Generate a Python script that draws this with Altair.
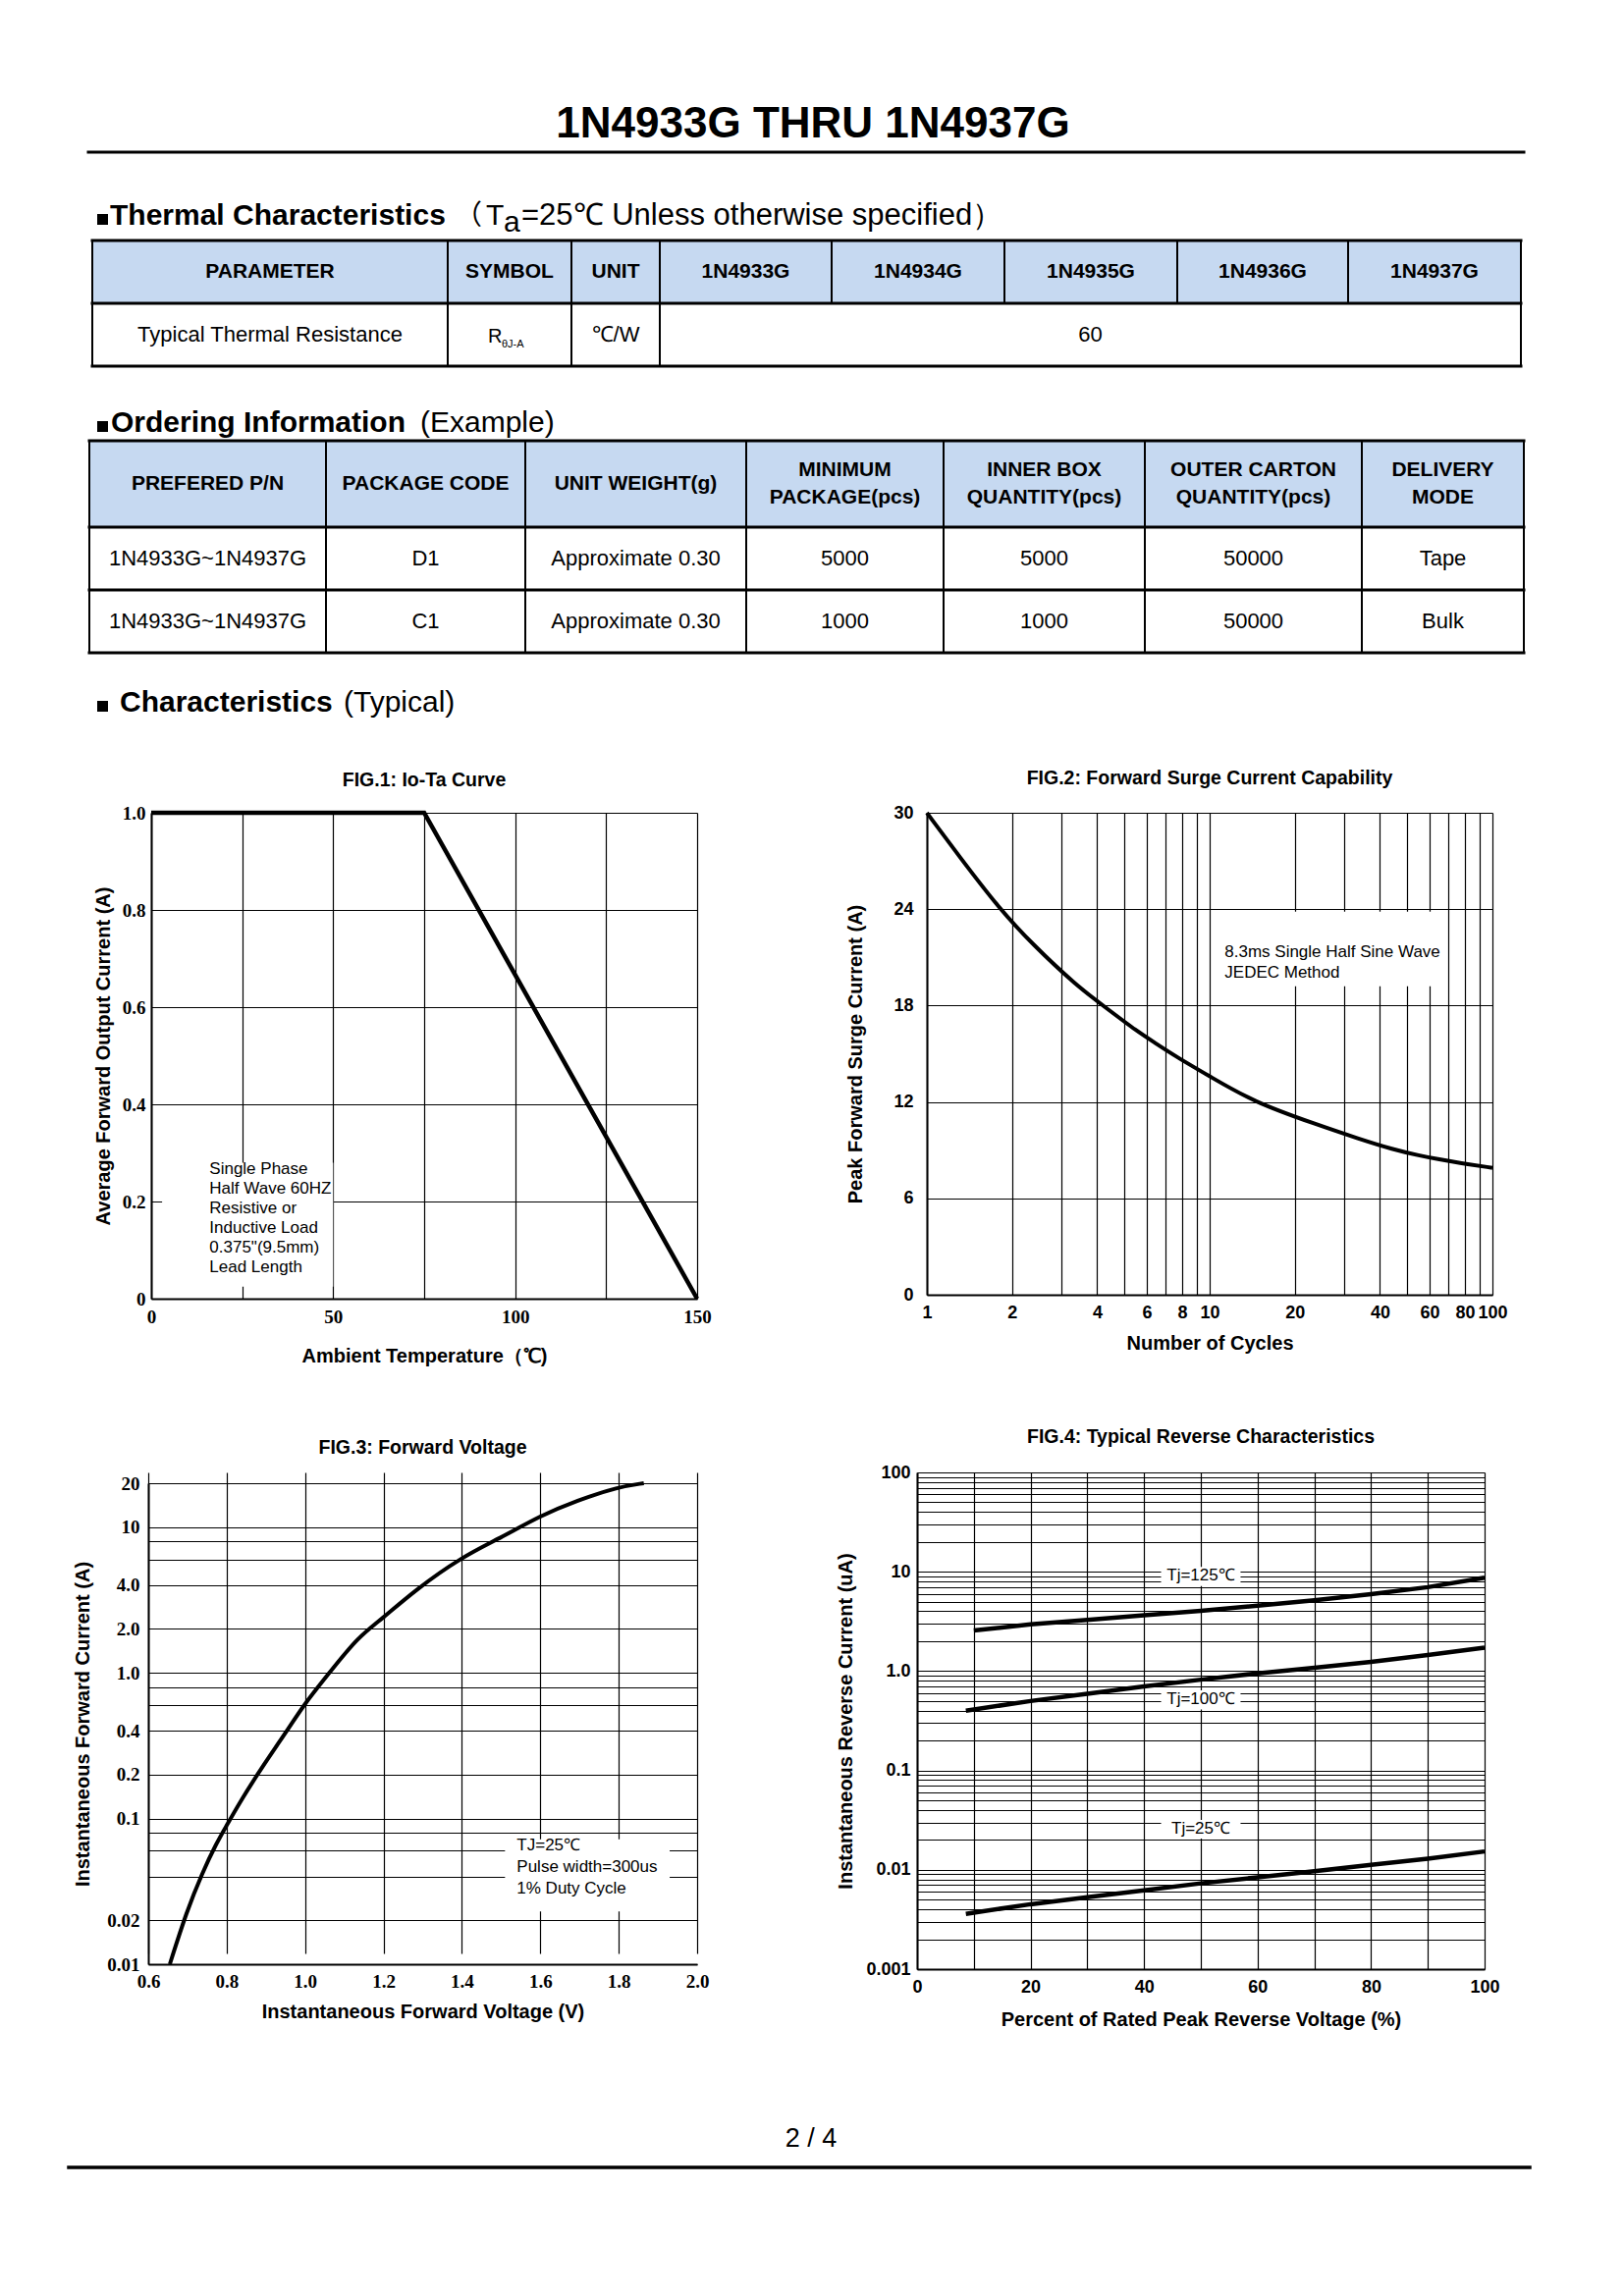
import altair as alt
import pandas as pd

# ---------------- fonts / colours ----------------
SANS = "Liberation Sans"
SERIF = "Liberation Serif"
CJK = "Noto Sans CJK SC"
HEAD_FILL = "#C6D9F1"

# ---------------- data ----------------
doc_title = "1N4933G THRU 1N4937G"
page_label = "2 / 4"

thermal_title = "Thermal Characteristics"
thermal_open = "（"
thermal_T = "T"
thermal_a = "a"
thermal_rest = "=25℃ Unless otherwise specified）"
thermal_headers = ["PARAMETER", "SYMBOL", "UNIT", "1N4933G", "1N4934G", "1N4935G", "1N4936G", "1N4937G"]
thermal_parameter = "Typical Thermal Resistance"
thermal_symbol = "R"
thermal_symbol_sub = "θJ-A"
thermal_unit = "℃/W"
thermal_value = "60"

order_title = "Ordering Information"
order_note = "(Example)"
order_headers = [["PREFERED P/N"], ["PACKAGE CODE"], ["UNIT WEIGHT(g)"],
                 ["MINIMUM", "PACKAGE(pcs)"], ["INNER BOX", "QUANTITY(pcs)"],
                 ["OUTER CARTON", "QUANTITY(pcs)"], ["DELIVERY", "MODE"]]
order_row_d1 = ["1N4933G~1N4937G", "D1", "Approximate 0.30", "5000", "5000", "50000", "Tape"]
order_row_c1 = ["1N4933G~1N4937G", "C1", "Approximate 0.30", "1000", "1000", "50000", "Bulk"]

char_title = "Characteristics"
char_note = "(Typical)"

fig1_title = "FIG.1: Io-Ta Curve"
fig1_ta = [0, 75, 150]
fig1_io = [1.0, 1.0, 0.0]
fig1_note = ["Single Phase", "Half Wave 60HZ", "Resistive or", "Inductive Load",
             "0.375\"(9.5mm)", "Lead Length"]

fig2_title = "FIG.2: Forward Surge Current Capability"
fig2_cycles = [1, 1.3, 1.81, 2.37, 3.35, 4.42, 5.54, 6.38, 7.64, 10, 14.3, 23.9, 33.8, 44.4, 55.6, 63.6, 76.8, 100]
fig2_ifsm = [30.0, 27.3, 24.0, 21.8, 19.3, 17.7, 16.4, 15.7, 14.8, 13.6, 12.0, 10.6, 9.7, 9.05, 8.65, 8.45, 8.2, 7.9]
fig2_note = ["8.3ms Single Half Sine Wave", "JEDEC Method"]

fig3_title = "FIG.3: Forward  Voltage"
fig3_vf = [0.655, 0.697, 0.738, 0.774, 0.799, 0.837, 0.891, 0.963, 0.999, 1.062,
           1.135, 1.197, 1.279, 1.402, 1.495, 1.601, 1.693, 1.800, 1.864]
fig3_if = [0.01, 0.0227, 0.0425, 0.0678, 0.0886, 0.134, 0.227, 0.434, 0.614, 1.0,
           1.76, 2.35, 3.67, 6.29, 8.32, 12.0, 15.2, 18.9, 20.0]
fig3_note = ["TJ=25℃", "Pulse width=300us", "1% Duty Cycle"]

fig4_title = "FIG.4: Typical Reverse Characteristics"
fig4_pct_125 = [10, 20, 30, 40, 50, 60, 70, 80, 90, 100]
fig4_ir_125 = [2.56, 2.95, 3.28, 3.65, 4.05, 4.55, 5.15, 5.95, 7.0, 8.7]
fig4_pct_100 = [8.6, 20, 30, 40, 50, 60, 70, 80, 90, 100]
fig4_ir_100 = [0.40, 0.50, 0.59, 0.70, 0.82, 0.95, 1.08, 1.24, 1.45, 1.72]
fig4_pct_25 = [8.6, 20, 30, 40, 50, 60, 70, 80, 90, 100]
fig4_ir_25 = [0.0036, 0.0045, 0.0053, 0.0062, 0.0073, 0.0084, 0.0097, 0.0112, 0.0129, 0.0153]
fig4_labels = ["Tj=125℃", "Tj=100℃", "Tj=25℃"]

# ---------------- layout (page pixels) ----------------
X0, Y0 = 8, 8
COL0 = 143          # page x 8 -> 151 (left edge of FIG.3)
COL2 = 224          # 710 -> 934 (left edge of FIG.4)
ROW_A_H = 820       # page y 8 -> 828
GAP_BC = 177
ROW_D_H = 230
F1_W, F1_H, F1_LEFT = 559, 495, 3      # plot x 154..710
F2_W, F2_H, F2_LEFT = 586, 491, 10     # plot x 944..1520
F3_W, F3_H, F3_TOP = 559, 501, 11      # plot y 1511..2001
F4_W, F4_H = 578, 506
ROW_D_TOP = Y0 + ROW_A_H + F1_H + GAP_BC + F4_H

T_X = [94, 456, 582, 672, 847, 1023, 1199, 1373, 1549]
T_Y = [245, 309, 373]
O_X = [91, 332, 535, 760, 961, 1166, 1387, 1552]
O_Y = [449, 537, 601, 665]
BASE_T, BASE_O, BASE_C = 229, 440, 725

ONE = pd.DataFrame({"k": [0]})


def text_layer(items, oy, **mark):
    df = pd.DataFrame([{"x": x - X0, "y": y - oy, "t": t} for x, y, t in items])
    return alt.Chart(df).mark_text(color="black", **mark).encode(
        x=alt.X("x:Q", scale=None, axis=None),
        y=alt.Y("y:Q", scale=None, axis=None),
        text="t:N")


def rect_layer(items, oy, color):
    df = pd.DataFrame([{"x": a - X0, "x2": b - X0, "y": c - oy, "y2": d - oy} for a, b, c, d in items])
    return alt.Chart(df).mark_rect(color=color).encode(
        x=alt.X("x:Q", scale=None, axis=None), x2="x2:Q",
        y=alt.Y("y:Q", scale=None, axis=None), y2="y2:Q")


def hrule_layer(items, oy, width):
    df = pd.DataFrame([{"x": a - X0, "x2": b - X0, "y": c - oy} for a, b, c in items])
    return alt.Chart(df).mark_rule(color="black", strokeWidth=width, strokeCap="square").encode(
        x=alt.X("x:Q", scale=None, axis=None), x2="x2:Q",
        y=alt.Y("y:Q", scale=None, axis=None))


def vrule_layer(items, oy, width):
    df = pd.DataFrame([{"x": a - X0, "y": b - oy, "y2": c - oy} for a, b, c in items])
    return alt.Chart(df).mark_rule(color="black", strokeWidth=width).encode(
        x=alt.X("x:Q", scale=None, axis=None),
        y=alt.Y("y:Q", scale=None, axis=None), y2="y2:Q")


def spacer(w, h):
    # invisible point kept well inside positive coordinates so it never shifts the origin
    return alt.Chart(ONE).mark_point(opacity=0, size=1, strokeWidth=0).encode(
        x=alt.value(4), y=alt.value(4)).properties(width=w, height=h)


# ---------------- row A: title, tables, headings ----------------
title_l = text_layer([(828, 127, doc_title)], Y0, font=SANS, fontWeight="bold",
                     fontSize=44, align="center", baseline="middle")
title_rule = hrule_layer([(90, 1552, 155)], Y0, 3)
squares = rect_layer([(99, 110, BASE_T - 11, BASE_T), (99, 110, BASE_O - 11, BASE_O),
                      (99, 110, BASE_C - 11, BASE_C)], Y0, "black")
head_bold = text_layer([(112, BASE_T, thermal_title), (113, BASE_O, order_title),
                        (122, BASE_C, char_title)], Y0, font=SANS, fontWeight="bold",
                       fontSize=30, align="left", baseline="alphabetic")
head_reg = text_layer([(495, BASE_T, thermal_T), (428, BASE_O, order_note),
                       (350, BASE_C, char_note)], Y0,
                      font=SANS, fontSize=30, align="left", baseline="alphabetic")
head_rest = text_layer([(531, BASE_T, thermal_rest)], Y0, font=SANS, fontSize=31,
                       align="left", baseline="alphabetic")
head_sub = text_layer([(513, BASE_T + 7, thermal_a)], Y0, font=SANS, fontSize=30,
                      align="left", baseline="alphabetic")
head_paren = text_layer([(491, BASE_T, thermal_open)], Y0, font=CJK, fontSize=28,
                        align="right", baseline="alphabetic")

fills = rect_layer([(T_X[0], T_X[-1], T_Y[0], T_Y[1]), (O_X[0], O_X[-1], O_Y[0], O_Y[1])],
                   Y0, HEAD_FILL)
v_lines = vrule_layer([(x, T_Y[0], T_Y[1]) for x in T_X]
                      + [(x, T_Y[1], T_Y[2]) for x in T_X[:4] + [T_X[-1]]]
                      + [(x, O_Y[0], O_Y[-1]) for x in O_X], Y0, 2)
h_lines = hrule_layer([(T_X[0], T_X[-1], y) for y in T_Y]
                      + [(O_X[0], O_X[-1], y) for y in O_Y], Y0, 3)

hdr_items = [((T_X[i] + T_X[i + 1]) / 2, (T_Y[0] + T_Y[1]) / 2, h)
             for i, h in enumerate(thermal_headers)]
o_mid = (O_Y[0] + O_Y[1]) / 2
for i, lines in enumerate(order_headers):
    cx = (O_X[i] + O_X[i + 1]) / 2
    for k, ln in enumerate(lines):
        hdr_items.append((cx, o_mid + (k - (len(lines) - 1) / 2) * 28, ln))
hdr = text_layer(hdr_items, Y0, font=SANS, fontWeight="bold", fontSize=21,
                 align="center", baseline="middle")

t_mid = (T_Y[1] + T_Y[2]) / 2
body_items = [((T_X[0] + T_X[1]) / 2, t_mid, thermal_parameter),
              ((T_X[2] + T_X[3]) / 2, t_mid, thermal_unit),
              ((T_X[3] + T_X[-1]) / 2, t_mid, thermal_value)]
for r, row in enumerate([order_row_d1, order_row_c1]):
    cy = (O_Y[r + 1] + O_Y[r + 2]) / 2
    for i, v in enumerate(row):
        body_items.append(((O_X[i] + O_X[i + 1]) / 2, cy, v))
body = text_layer(body_items, Y0, font=SANS, fontSize=22, align="center", baseline="middle")
sym = text_layer([(497, t_mid + 8, thermal_symbol)], Y0, font=SANS, fontSize=20,
                 align="left", baseline="alphabetic")
sym_sub = text_layer([(511, t_mid + 13, thermal_symbol_sub)], Y0, font=SANS, fontSize=11,
                     align="left", baseline="alphabetic")

# the cell is only COL0 wide; its marks extend to the right (no clipping)
rowA = alt.layer(fills, v_lines, h_lines, title_l, title_rule, squares, head_bold, head_reg,
                 head_rest, head_sub, head_paren, hdr, body, sym, sym_sub).properties(
    width=COL0, height=ROW_A_H)

# ---------------- figures ----------------
AX = dict(grid=True, gridColor="black", gridWidth=1.2, gridOpacity=1,
          domainColor="black", domainWidth=2, ticks=False,
          labelColor="black", labelFlush=False, labelOverlap=False,
          titleColor="black", titleFont=SANS, titleFontWeight="bold", titleFontSize=20)


def box_layer(rows, sx, sy, ax, ay):
    df = pd.DataFrame(rows, columns=["bx", "bx2", "by", "by2"])
    return alt.Chart(df).mark_rect(color="white").encode(
        x=alt.X("bx:Q", scale=sx, axis=ax), x2="bx2:Q",
        y=alt.Y("by:Q", scale=sy, axis=ay), y2="by2:Q")


def note_layer(nx, ny, sx, sy, ax, ay, lines, lh):
    df = pd.DataFrame({"nx": [nx], "ny": [ny]})
    return alt.Chart(df).mark_text(text=lines, align="left", baseline="top", font=SANS,
                                   fontSize=17, lineHeight=lh, color="black").encode(
        x=alt.X("nx:Q", scale=sx, axis=ax), y=alt.Y("ny:Q", scale=sy, axis=ay))


def title_layer(text, cx, dy):
    return alt.Chart(ONE).mark_text(text=text, font=SANS, fontWeight="bold", fontSize=19.5,
                                    color="black", baseline="middle").encode(
        x=alt.value(cx), y=alt.value(dy))


# FIG 1
s1x = alt.Scale(domain=[0, 150], nice=False, zero=False, range=[F1_LEFT, F1_W])
s1y = alt.Scale(domain=[0, 1.0], nice=False, zero=False)
a1x = alt.Axis(values=[0, 25, 50, 75, 100, 125, 150],
               labelExpr="datum.value % 50 == 0 ? format(datum.value, 'd') : ''",
               labelFont=SERIF, labelFontWeight="bold", labelFontSize=19, labelPadding=9,
               title="Ambient Temperature（℃)", titlePadding=20, **AX)
a1y = alt.Axis(values=[0, 0.2, 0.4, 0.6, 0.8, 1.0], offset=-F1_LEFT,
               labelExpr="datum.value == 0 ? '0' : format(datum.value, '.1f')",
               labelFont=SERIF, labelFontWeight="bold", labelFontSize=19, labelPadding=6,
               title="Average Forward Output Current (A)", titlePadding=9, **AX)
fig1 = alt.layer(
    box_layer([(3, 50, 0.025, 0.28)], s1x, s1y, a1x, a1y),
    alt.Chart(pd.DataFrame({"ta": fig1_ta, "io": fig1_io})).mark_line(
        color="black", strokeWidth=4.5).encode(
        x=alt.X("ta:Q", scale=s1x, axis=a1x), y=alt.Y("io:Q", scale=s1y, axis=a1y)),
    note_layer(16, 0.283, s1x, s1y, a1x, a1y, fig1_note, 20),
    title_layer(fig1_title, (F1_LEFT + F1_W) / 2, -33),
).properties(width=F1_W, height=F1_H)

# FIG 2
s2x = alt.Scale(type="log", domain=[1, 100], nice=False, range=[F2_LEFT, F2_W])
s2y = alt.Scale(domain=[0, 30], nice=False, zero=False)
a2x = alt.Axis(values=[1, 2, 3, 4, 5, 6, 7, 8, 9, 10, 20, 30, 40, 50, 60, 70, 80, 90, 100],
               labelExpr="indexof([1,2,4,6,8,10,20,40,60,80,100], datum.value) >= 0 ? format(datum.value, 'd') : ''",
               labelFont=SANS, labelFontWeight="bold", labelFontSize=18, labelPadding=9,
               title="Number of Cycles", titlePadding=12, **AX)
a2y = alt.Axis(values=[0, 6, 12, 18, 24, 30], format="d", offset=-F2_LEFT,
               labelFont=SANS, labelFontWeight="bold", labelFontSize=18, labelPadding=14,
               title="Peak Forward Surge Current (A)", titlePadding=28, **AX)
fig2 = alt.layer(
    box_layer([(10.6, 68, 19.2, 23.85)], s2x, s2y, a2x, a2y),
    alt.Chart(pd.DataFrame({"n": fig2_cycles, "a": fig2_ifsm})).mark_line(
        color="black", strokeWidth=4, interpolate="basis").encode(
        x=alt.X("n:Q", scale=s2x, axis=a2x), y=alt.Y("a:Q", scale=s2y, axis=a2y)),
    note_layer(11.3, 21.8, s2x, s2y, a2x, a2y, fig2_note, 21),
    title_layer(fig2_title, (F2_LEFT + F2_W) / 2, -35),
).properties(width=F2_W, height=F2_H)

# FIG 3
s3x = alt.Scale(domain=[0.6, 2.0], nice=False, zero=False)
s3y = alt.Scale(type="log", domain=[0.01, 20], nice=False, range=[F3_H, F3_TOP])
a3x = alt.Axis(values=[0.6, 0.8, 1.0, 1.2, 1.4, 1.6, 1.8, 2.0], format=".1f",
               labelFont=SERIF, labelFontWeight="bold", labelFontSize=19, labelPadding=8,
               title="Instantaneous Forward Voltage (V)", titlePadding=11, **AX)
a3y = alt.Axis(values=[0.01, 0.02, 0.04, 0.06, 0.08, 0.1, 0.2, 0.4, 0.6, 0.8, 1, 2, 4, 6, 8, 10, 20],
               labelExpr="indexof([0.01,0.02,0.1,0.2,0.4,1,2,4,10,20], datum.value) < 0 ? '' : "
                         "datum.value >= 10 ? format(datum.value, 'd') : "
                         "datum.value >= 1 ? format(datum.value, '.1f') : format(datum.value, '~g')",
               labelFont=SERIF, labelFontWeight="bold", labelFontSize=19, labelPadding=9,
               title="Instantaneous Forward Current (A)", titlePadding=14, **AX)
fig3 = alt.layer(
    box_layer([(1.51, 1.93, 0.023, 0.072)], s3x, s3y, a3x, a3y),
    alt.Chart(pd.DataFrame({"v": fig3_vf, "i": fig3_if})).mark_line(
        color="black", strokeWidth=4, interpolate="basis").encode(
        x=alt.X("v:Q", scale=s3x, axis=a3x), y=alt.Y("i:Q", scale=s3y, axis=a3y)),
    note_layer(1.54, 0.0744, s3x, s3y, a3x, a3y, fig3_note, 22),
    title_layer(fig3_title, F3_W / 2, F3_TOP - 36),
).properties(width=F3_W, height=F3_H)

# FIG 4
s4x = alt.Scale(domain=[0, 100], nice=False, zero=False)
s4y = alt.Scale(type="log", domain=[0.001, 100], nice=False)
grid4 = [round(k * 10.0 ** e, 6) for e in range(-3, 2) for k in range(1, 10)] + [100]
a4x = alt.Axis(values=[0, 10, 20, 30, 40, 50, 60, 70, 80, 90, 100],
               labelExpr="datum.value % 20 == 0 ? format(datum.value, 'd') : ''",
               labelFont=SANS, labelFontWeight="bold", labelFontSize=18, labelPadding=9,
               title="Percent of Rated Peak Reverse Voltage (%)", titlePadding=14, **AX)
a4y = alt.Axis(values=grid4,
               labelExpr="indexof([0.001,0.01,0.1,1,10,100], datum.value) < 0 ? '' : "
                         "datum.value == 1 ? '1.0' : format(datum.value, '~g')",
               labelFont=SANS, labelFontWeight="bold", labelFontSize=18, labelPadding=7,
               title="Instantaneous Reverse Current (uA)", titlePadding=10, **AX)
f4 = pd.concat([
    pd.DataFrame({"pct": fig4_pct_125, "ir": fig4_ir_125, "tj": fig4_labels[0]}),
    pd.DataFrame({"pct": fig4_pct_100, "ir": fig4_ir_100, "tj": fig4_labels[1]}),
    pd.DataFrame({"pct": fig4_pct_25, "ir": fig4_ir_25, "tj": fig4_labels[2]}),
], ignore_index=True)
lab4 = pd.DataFrame({"lx": [50, 50, 50], "ly": [9.1, 0.518, 0.0256], "t": fig4_labels})
fig4 = alt.layer(
    box_layer([(43, 57, 7.2, 11.2), (43, 57, 0.41, 0.64), (43, 57, 0.0206, 0.0318)],
              s4x, s4y, a4x, a4y),
    alt.Chart(f4).mark_line(color="black", strokeWidth=4.5).encode(
        x=alt.X("pct:Q", scale=s4x, axis=a4x), y=alt.Y("ir:Q", scale=s4y, axis=a4y),
        detail="tj:N"),
    alt.Chart(lab4).mark_text(font=SANS, fontSize=17, color="black", baseline="middle").encode(
        x=alt.X("lx:Q", scale=s4x, axis=a4x), y=alt.Y("ly:Q", scale=s4y, axis=a4y), text="t:N"),
    title_layer(fig4_title, F4_W / 2, -36),
).properties(width=F4_W, height=F4_H)

# ---------------- footer ----------------
foot_text = text_layer([(826, 2179, page_label)], ROW_D_TOP, font=SANS, fontSize=27,
                       align="center", baseline="middle")
foot_rule = hrule_layer([(70, 1558, 2208)], ROW_D_TOP, 3.5)
rowD = alt.layer(foot_text, foot_rule).properties(width=COL0, height=ROW_D_H)

# ---------------- page grid ----------------
cells = [
    rowA, spacer(1, 1), spacer(1, 1), spacer(1, 1),
    spacer(COL0, 1), fig1, spacer(COL2, 1), fig2,
    spacer(1, GAP_BC), spacer(1, 1), spacer(1, 1), spacer(1, 1),
    spacer(COL0, 1), fig3, spacer(COL2, 1), fig4,
    rowD, spacer(1, 1), spacer(1, 1), spacer(1, 1),
]
chart = alt.concat(*cells, columns=4, align="each", bounds="flush", spacing=0).properties(
    padding=0, background="white").configure_view(stroke=None)

chart.save("out.html", embed_options={"renderer": "svg", "actions": False})
